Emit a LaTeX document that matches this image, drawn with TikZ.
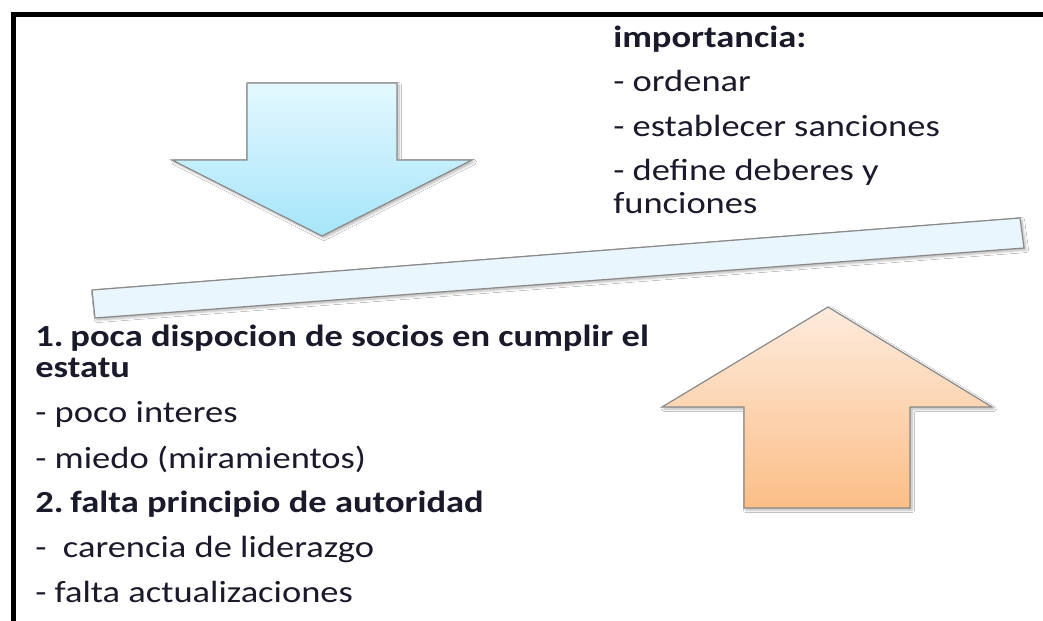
\documentclass[tikz,border=0pt]{standalone}
\usepackage{fontspec}
\setmainfont{Carlito}[FakeStretch=1.19]
\usetikzlibrary{shadows.blur}
\definecolor{downtop}{HTML}{E4F8FE}
\definecolor{downbot}{HTML}{A6E5FA}
\definecolor{uptop}{HTML}{FDEBDC}
\definecolor{upbot}{HTML}{FBBE87}
\definecolor{barfill}{HTML}{EAF6FE}
\definecolor{edgegray}{HTML}{8A8A8A}
\definecolor{txtcol}{HTML}{1A1A2A}
\tikzset{
  shapeedge/.style={draw=edgegray, line width=0.9pt, line join=miter,
    blur shadow={shadow xshift=1.5pt, shadow yshift=-1.5pt, shadow blur steps=5, shadow opacity=30}},
  txt/.style={anchor=base west, inner sep=0pt, text=txtcol, font=\fontsize{23}{27}\selectfont},
  txtb/.style={txt, font=\fontsize{23}{27}\selectfont\bfseries},
}
\begin{document}
\begin{tikzpicture}[x=0.75pt,y=-0.75pt]
\useasboundingbox (0,0) rectangle (1043,621);
\fill[white] (0,0) rectangle (1043,621);
% frame
\draw[line width=3.8pt] (13.5,621) -- (13.5,14.5) -- (1043,14.5);
% down arrow
\path[shapeedge, top color=downtop, bottom color=downbot]
  (247,83) -- (397,83) -- (397,160) -- (472,160) -- (322,236) -- (172,160) -- (247,160) -- cycle;
% bar
\path[shapeedge, fill=barfill]
  (92,290) -- (1020,218) -- (1024,248) -- (95,318) -- cycle;
% up arrow
\path[shapeedge, top color=uptop, bottom color=upbot]
  (828,307) -- (992,407) -- (910,407) -- (910,508) -- (744,508) -- (744,407) -- (662,407) -- cycle;
% right text
\node[txtb] (imp) at (613,47) {importancia:};
\node[txt] (i1) at (613,91) {- ordenar};
\node[txt] (i2) at (613,136) {- establecer sanciones};
\node[txt] (i3) at (613,180) {- define deberes y};
\node[txt] (i4) at (613,213) {funciones};
% left text
\node[txtb] (p1) at (35,346) {1.\kern-3pt{} poca dispocion de socios en cumplir el};
\node[txtb] (p1b) at (35,377) {estatu};
\node[txt] (a1) at (35,422) {- poco interes};
\node[txt] (a2) at (35,468) {- miedo (miramientos)};
\node[txtb] (p2) at (35,512) {2.\kern-3pt{} falta principio de autoridad};
\node[txt] (b1) at (35,557) {-\ \ carencia de liderazgo};
\node[txt] (b2) at (35,602) {- falta actualizaciones};
\end{tikzpicture}
\end{document}
